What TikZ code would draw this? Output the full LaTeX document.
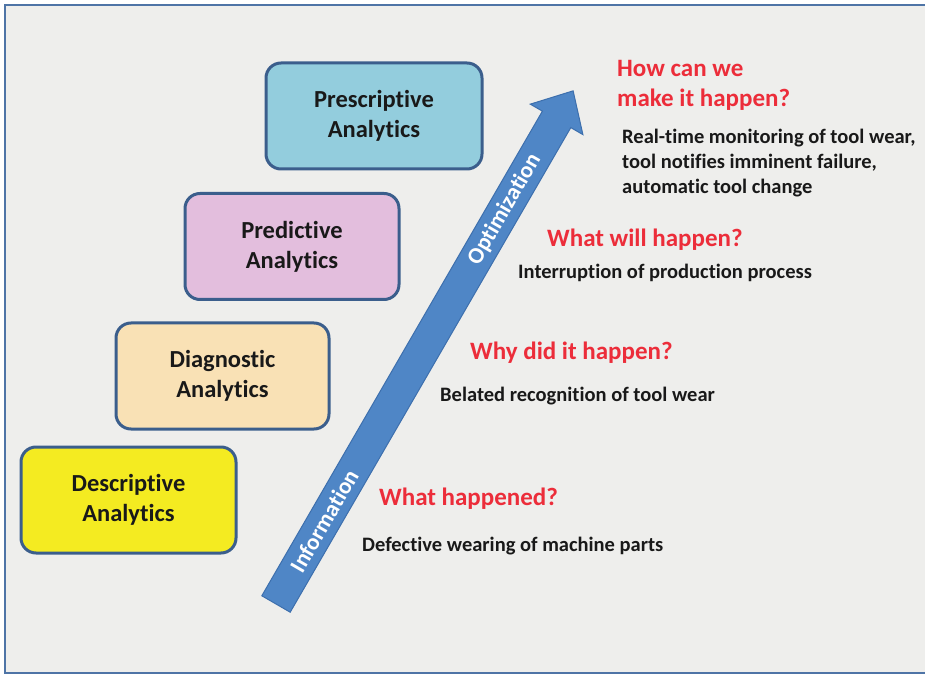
\documentclass[tikz,border=0pt]{standalone}
\usepackage{fontspec}
\setmainfont[RawFeature={-liga;-clig;-dlig}]{Carlito}
\definecolor{bggray}{HTML}{EEEEEC}
\definecolor{framecol}{HTML}{4E74A6}
\definecolor{boxborder}{HTML}{3B5E8C}
\definecolor{cyanbox}{HTML}{93CDDD}
\definecolor{purplebox}{HTML}{E3BEDD}
\definecolor{tanbox}{HTML}{F9E1B5}
\definecolor{yellowbox}{HTML}{F4EB21}
\definecolor{arrowfill}{HTML}{4F86C6}
\definecolor{arrowline}{HTML}{3D6FAD}
\definecolor{qred}{HTML}{EC2D3A}
\tikzset{
  anabox/.style={draw=boxborder, line width=3pt, rounded corners=15pt,
    minimum width=#1, minimum height=106pt, align=center,
    font=\bfseries\fontsize{24.5}{30}\selectfont, text=black!90},
  anabox/.default=215pt,
  question/.style={anchor=west, inner sep=0pt, align=left, text=qred,
    font=\bfseries\fontsize{25}{30}\selectfont},
  answer/.style={anchor=west, inner sep=0pt, align=left, text=black!90,
    font=\bfseries\fontsize{20.5}{25}\selectfont},
  arrowtext/.style={text=white, font=\bfseries\fontsize{23}{26}\selectfont, inner sep=0pt}
}
\begin{document}
\begin{tikzpicture}[x=1pt,y=1pt]
\useasboundingbox (0,0) rectangle (925,675);
\fill[white] (0,0) rectangle (925,675);
\fill[bggray] (5,2) rectangle (925,670);
\draw[framecol, line width=2.5pt] (925,2) -- (5,2) -- (5,670) -- (925,670);

% boxes
\node[anabox=216pt, fill=cyanbox] (presc) at (374,559) {Prescriptive\\Analytics};
\node[anabox=214pt, fill=purplebox] (pred) at (292,428.5) {Predictive\\Analytics};
\node[anabox=213pt, fill=tanbox] (diag) at (222.5,299) {Diagnostic\\Analytics};
\node[anabox=215pt, fill=yellowbox] (desc) at (128.5,175) {Descriptive\\Analytics};

% arrow
\begin{scope}[shift={(276,71)}, rotate=59.93]
\coordinate (tail) at (0,0);
\coordinate (tip) at (593,0);
\draw[arrowline, line width=1pt, fill=arrowfill, line join=miter]
  (0,-16.4) -- (560,-16.4) -- (560,-30.4) -- (tip) -- (560,30.4) -- (560,16.4) -- (0,16.4) -- cycle;
\node[arrowtext, rotate=59.93] (info) at (96,0) {Information};
\node[arrowtext, rotate=59.93] (optim) at (456,0) {Optimization};
\end{scope}

% texts
\node[question] (q4) at (617,590) {How can we\\make it happen?};
\node[answer] (a4) at (622,512) {Real-time monitoring of tool wear,\\tool notifies imminent failure,\\automatic tool change};
\node[question] (q3) at (547,435) {What will happen?};
\node[answer] (a3) at (518,402) {Interruption of production process};
\node[question] (q2) at (470,322) {Why did it happen?};
\node[answer] (a2) at (440,279) {Belated recognition of tool wear};
\node[question] (q1) at (379,176) {What happened?};
\node[answer] (a1) at (362,129) {Defective wearing of machine parts};
\end{tikzpicture}
\end{document}
